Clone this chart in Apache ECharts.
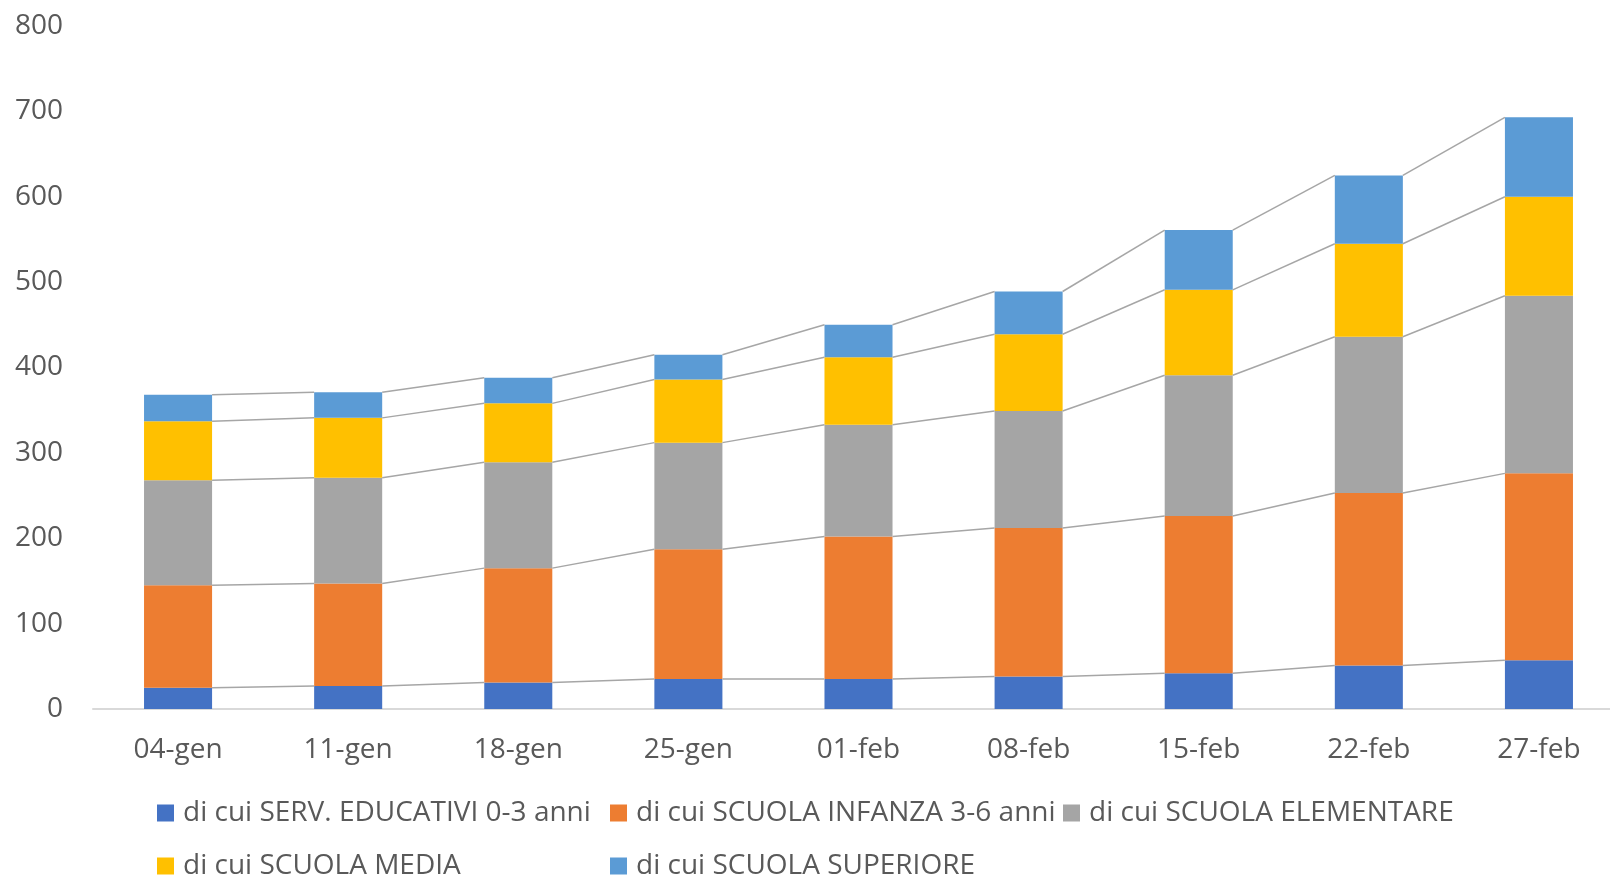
<!DOCTYPE html>
<html>
<head>
<meta charset="utf-8">
<script src="https://cdn.jsdelivr.net/npm/echarts@6/dist/echarts.min.js"></script>
<style>html,body{margin:0;padding:0;background:#fff;overflow:hidden;}#c{width:1630px;height:880px;}</style>
</head>
<body>
<div id="c"></div>
<script>
const categories = ['04-gen','11-gen','18-gen','25-gen','01-feb','08-feb','15-feb','22-feb','27-feb'];
const seriesNames = ['di cui SERV. EDUCATIVI 0-3 anni','di cui SCUOLA INFANZA 3-6 anni','di cui SCUOLA ELEMENTARE','di cui SCUOLA MEDIA','di cui SCUOLA SUPERIORE'];
const servEducativi = [25, 27, 31, 35, 35, 38, 42, 51, 57];
const scuolaInfanza = [120, 120, 134, 152, 167, 174, 184, 202, 219];
const scuolaElementare = [123, 124, 124, 125, 131, 137, 165, 183, 208];
const scuolaMedia = [69, 70, 69, 74, 79, 90, 100, 109, 116];
const scuolaSuperiore = [31, 30, 30, 29, 38, 50, 70, 80, 93];
const yTicks = [0, 100, 200, 300, 400, 500, 600, 700, 800];

const colors = ['#4472C4', '#ED7D31', '#A5A5A5', '#FFC000', '#5B9BD5'];
const allSeries = [servEducativi, scuolaInfanza, scuolaElementare, scuolaMedia, scuolaSuperiore];
const BAR_FRAC = 0.4;

// cumulative tops for series lines
const cum = [];
allSeries.forEach((arr, k) => {
  cum.push(arr.map((v, i) => (k > 0 ? cum[k - 1][i] : 0) + v));
});
const lineData = [];
for (let k = 0; k < cum.length; k++) {
  for (let i = 0; i < categories.length - 1; i++) {
    lineData.push([i, cum[k][i], cum[k][i + 1]]);
  }
}

const font = 'Open Sans';
const chart = echarts.init(document.getElementById('c'), null, {renderer: 'canvas'});

const barSeries = allSeries.map((arr, k) => ({
  name: seriesNames[k],
  type: 'bar',
  stack: 'total',
  barWidth: (BAR_FRAC * 100) + '%',
  data: arr,
  itemStyle: {color: colors[k]},
  emphasis: {disabled: true},
  z: 2
}));

const legendCommon = {
  orient: 'horizontal',
  left: 157,
  padding: 0,
  itemWidth: 17,
  itemHeight: 17,
  itemGap: 7,
  icon: 'rect',
  selectedMode: false,
  textStyle: {fontFamily: font, fontSize: 28, color: '#595959', width: 420, lineHeight: 30, padding: [0, 0, 0, 4], overflow: 'none'}
};

chart.setOption({
  animation: false,
  backgroundColor: '#ffffff',
  grid: {left: 93, right: 6, top: 26, height: 683, containLabel: false},
  legend: [
    Object.assign({}, legendCommon, {top: 798, data: seriesNames.slice(0, 3)}),
    Object.assign({}, legendCommon, {top: 851, data: seriesNames.slice(3)})
  ],
  xAxis: {
    type: 'category',
    data: categories,
    axisLine: {lineStyle: {color: '#D9D9D9', width: 2}},
    axisTick: {show: false},
    axisLabel: {fontFamily: font, fontSize: 28, color: '#595959', margin: 27}
  },
  yAxis: {
    type: 'value',
    min: yTicks[0],
    max: yTicks[yTicks.length - 1],
    interval: yTicks[1] - yTicks[0],
    axisLine: {show: false},
    axisTick: {show: false},
    splitLine: {show: false},
    axisLabel: {fontFamily: font, fontSize: 28, color: '#595959', align: 'right', margin: 30}
  },
  series: barSeries.concat([{
    type: 'custom',
    name: 'serieslines',
    data: lineData,
    encode: {x: 0, y: [1, 2]},
    silent: true,
    z: 3,
    renderItem: function (params, api) {
      const i = api.value(0);
      const p1 = api.coord([i, api.value(1)]);
      const p2 = api.coord([i + 1, api.value(2)]);
      const half = api.size([1, 0])[0] * BAR_FRAC / 2;
      return {
        type: 'line',
        shape: {x1: p1[0] + half, y1: p1[1], x2: p2[0] - half, y2: p2[1]},
        style: {stroke: '#A6A6A6', lineWidth: 1.5}
      };
    }
  }])
});
</script>
</body>
</html>
